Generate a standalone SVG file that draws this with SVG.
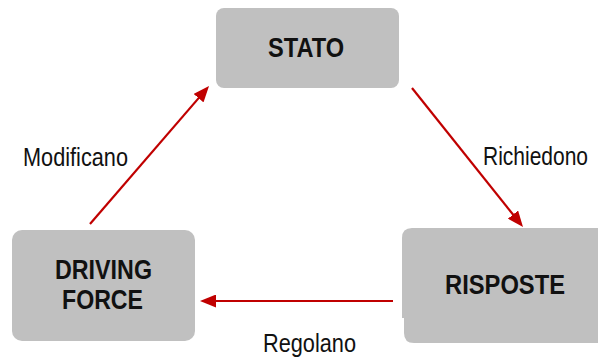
<svg xmlns="http://www.w3.org/2000/svg" width="598" height="358" viewBox="0 0 598 358">
  <style>
    .box { fill: #c0c0c0; }
    .node-text { font-family: "Liberation Sans Narrow", "Liberation Sans", Arial, sans-serif; font-weight: bold; font-size: 27px; fill: #111111; }
    .edge { stroke: #c00000; stroke-width: 2.2; fill: none; }
    .edge-label { font-family: "Liberation Sans Narrow", "Liberation Sans", Arial, sans-serif; font-size: 25px; fill: #111111; }
  </style>
  <defs>
    <marker id="arrow" markerUnits="userSpaceOnUse" markerWidth="16" markerHeight="13" refX="8" refY="6.5" orient="auto">
      <path d="M0,0 L16,6.5 L0,13 Z" fill="#c00000"/>
    </marker>
  </defs>
  <rect width="598" height="358" fill="#ffffff"/>

  <!-- connectors -->
  <g id="connectors">
    <line class="edge" x1="90" y1="224" x2="203.8" y2="92.1" marker-end="url(#arrow)"/>
    <line class="edge" x1="412" y1="88" x2="518" y2="220.8" marker-end="url(#arrow)"/>
    <line class="edge" x1="393" y1="301" x2="208" y2="301" marker-end="url(#arrow)"/>
    <text class="edge-label" x="23" y="166" textLength="105" lengthAdjust="spacingAndGlyphs">Modificano</text>
    <text class="edge-label" x="483" y="165" textLength="105" lengthAdjust="spacingAndGlyphs">Richiedono</text>
    <text class="edge-label" x="263" y="352" textLength="93" lengthAdjust="spacingAndGlyphs">Regolano</text>
  </g>

  <!-- nodes -->
  <g id="stato">
    <rect class="box" x="216" y="8" width="183" height="80" rx="8"/>
    <text class="node-text" x="268" y="57" textLength="76" lengthAdjust="spacingAndGlyphs">STATO</text>
  </g>
  <g id="driving-force">
    <rect class="box" x="12" y="230" width="183" height="111" rx="10"/>
    <text class="node-text" x="55" y="279" textLength="97" lengthAdjust="spacingAndGlyphs">DRIVING</text>
    <text class="node-text" x="62" y="309" textLength="81" lengthAdjust="spacingAndGlyphs">FORCE</text>
  </g>
  <g id="risposte">
    <path class="box" d="M412,228 H608 V343 H414 Q404,343 404,333 V318 H402 V238 Q402,228 412,228 Z"/>
    <text class="node-text" x="445" y="294" textLength="120" lengthAdjust="spacingAndGlyphs">RISPOSTE</text>
  </g>
</svg>
